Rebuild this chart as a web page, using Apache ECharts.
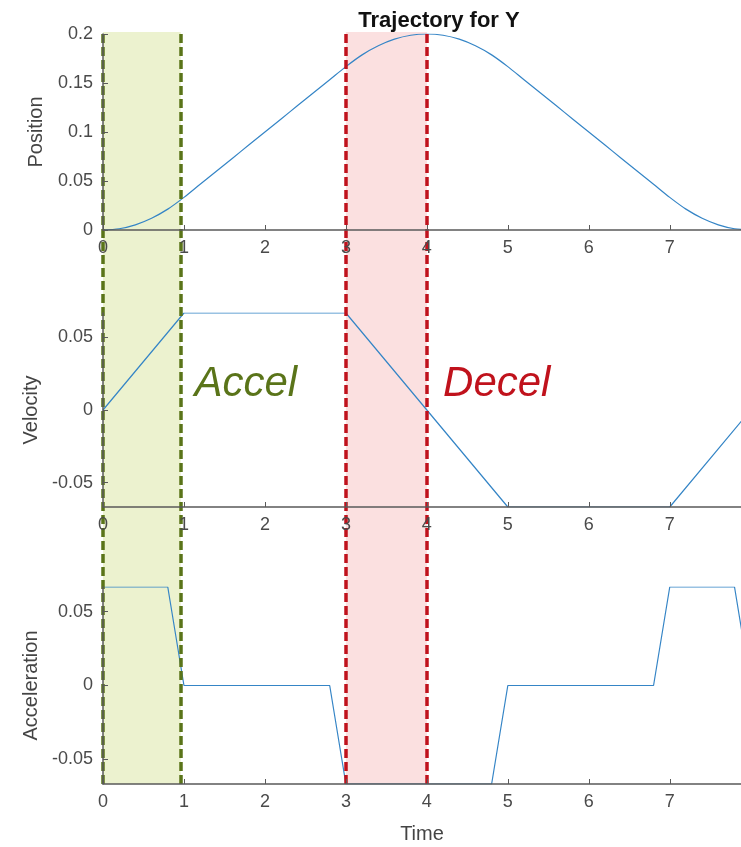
<!DOCTYPE html>
<html><head><meta charset="utf-8">
<script src="https://cdn.jsdelivr.net/npm/echarts@6/dist/echarts.min.js"></script>
<style>html,body{margin:0;padding:0;background:#fff}#c{width:741px;height:847px}</style>
</head><body><div id="c"></div>
<script>
// ---- data ----
const timeSamples = [0,0.2,0.4,0.6,0.8,1.0,1.2,1.4,1.6,1.8,2.0,2.2,2.4,2.6,2.8,3.0,3.2,3.4,3.6,3.8,4.0,4.2,4.4,4.6,4.8,5.0,5.2,5.4,5.6,5.8,6.0,6.2,6.4,6.6,6.8,7.0,7.2,7.4,7.6,7.8,8.0];
const positionValues = [0,0.0013,0.0053,0.012,0.0213,0.0333,0.0467,0.06,0.0733,0.0867,0.1,0.1133,0.1267,0.14,0.1533,0.1667,0.1787,0.188,0.1947,0.1987,0.2,0.1987,0.1947,0.188,0.1787,0.1667,0.1533,0.14,0.1267,0.1133,0.1,0.0867,0.0733,0.06,0.0467,0.0333,0.0213,0.012,0.0053,0.0013,0];
const velocityTimes = [0,1,3,5,7,8];
const velocityValues = [0,0.0667,0.0667,-0.0667,-0.0667,0];
const accelTimes = [0,0.8,1.0,2.8,3.0,4.8,5.0,6.8,7.0,7.8,8.0];
const accelValues = [0.0667,0.0667,0,0,-0.0667,-0.0667,0,0,0.0667,0.0667,0];
const xTickValues = [0,1,2,3,4,5,6,7];
const positionTickValues = [0,0.05,0.1,0.15,0.2];
const rateTickValues = [-0.05,0,0.05];
const accelRegion = [0,0.96];
const decelRegion = [3,4];
const accelLabel = {text:'Accel', t:1.13, v:0.018};
const decelLabel = {text:'Decel', t:4.2, v:0.018};
const xMin = 0, xMax = 7.88;
const rateLimit = 0.0667;

// ---- chart ----
const FONT = '"Liberation Sans", Arial, sans-serif';
const TICK = '#4a4a4a';
const AXIS = '#5a5a5a';
const CURVE = '#3585c6';
const GREEN = '#5a7419', GREEN_FILL = '#ecf2cf';
const RED = '#c0121c', RED_FILL = '#fbe0e0';

const zip = (a,b) => a.map((t,i)=>[t,b[i]]);
const grids = [
  {left:103, right:0, top:34, bottom:617},
  {left:103, right:0, top:313, bottom:340},
  {left:103, right:0, top:587, bottom:63},
  {left:103, right:0, top:32, bottom:63}
];
function xAx(i, extra){
  return Object.assign({
    type:'value', gridIndex:i, min:xMin, max:xMax, z:5,
    axisLine:{show:true, onZero:false, lineStyle:{color:AXIS, width:1.5}},
    axisTick:{show:true, inside:true, length:5, customValues:xTickValues, lineStyle:{color:AXIS}},
    axisLabel:{customValues:xTickValues, color:TICK, fontSize:18, fontFamily:FONT, margin:9},
    splitLine:{show:false}
  }, extra||{});
}
function yAx(i, min, max, ticks, name, gap){
  return {
    type:'value', gridIndex:i, min:min, max:max, z:5,
    name:name, nameLocation:'middle', nameGap:gap, nameRotate:90,
    nameTextStyle:{color:'#444', fontSize:20, fontFamily:FONT},
    axisLine:{show:true, onZero:false, lineStyle:{color:AXIS, width:1.5}},
    axisTick:{show:true, inside:true, length:5, customValues:ticks, lineStyle:{color:AXIS}},
    axisLabel:{customValues:ticks, color:TICK, fontSize:18, fontFamily:FONT, margin:10},
    splitLine:{show:false}
  };
}
const option = {
  animation:false,
  backgroundColor:'#fff',
  title:{text:'Trajectory for Y', left:434, top:5, textAlign:'center',
    textStyle:{fontSize:22, fontWeight:'bold', color:'#111', fontFamily:FONT}},
  grid:grids,
  xAxis:[
    xAx(0), xAx(1),
    xAx(2, {name:'Time', nameLocation:'middle', nameGap:40,
      nameTextStyle:{color:'#444', fontSize:20, fontFamily:FONT}}),
    {type:'value', gridIndex:3, min:xMin, max:xMax, show:false}
  ],
  yAxis:[
    yAx(0, 0, 0.2, positionTickValues, 'Position', 57),
    yAx(1, -rateLimit, rateLimit, rateTickValues, 'Velocity', 62),
    yAx(2, -rateLimit, rateLimit, rateTickValues, 'Acceleration', 62),
    {type:'value', gridIndex:3, min:0, max:1, show:false}
  ],
  series:[
    {type:'line', xAxisIndex:3, yAxisIndex:3, data:[], z:1, silent:true,
      markArea:{silent:true, data:[
        [{xAxis:accelRegion[0], itemStyle:{color:GREEN_FILL}}, {xAxis:accelRegion[1]}],
        [{xAxis:decelRegion[0], itemStyle:{color:RED_FILL}}, {xAxis:decelRegion[1]}]
      ]}},
    {type:'line', name:'Position', xAxisIndex:0, yAxisIndex:0, data:zip(timeSamples, positionValues),
      showSymbol:false, smooth:0.3, z:4, lineStyle:{color:CURVE, width:1.2}},
    {type:'line', name:'Velocity', xAxisIndex:1, yAxisIndex:1, data:zip(velocityTimes, velocityValues),
      showSymbol:false, z:4, lineStyle:{color:CURVE, width:1.2},
      markPoint:{silent:true, symbol:'circle', symbolSize:0, data:[
        {coord:[accelLabel.t, accelLabel.v], label:{show:true, formatter:accelLabel.text, position:'right', distance:0,
          color:GREEN, fontSize:42, fontStyle:'italic', fontFamily:FONT}},
        {coord:[decelLabel.t, decelLabel.v], label:{show:true, formatter:decelLabel.text, position:'right', distance:0,
          color:RED, fontSize:42, fontStyle:'italic', fontFamily:FONT}}
      ]}},
    {type:'line', name:'Acceleration', xAxisIndex:2, yAxisIndex:2, data:zip(accelTimes, accelValues),
      showSymbol:false, z:4, lineStyle:{color:CURVE, width:1.2}},
    {type:'line', xAxisIndex:3, yAxisIndex:3, data:[], z:8, silent:true,
      markLine:{silent:true, symbol:['none','none'], label:{show:false}, data:[
        {xAxis:accelRegion[0], lineStyle:{color:GREEN, width:3.5, type:[9,4]}},
        {xAxis:accelRegion[1], lineStyle:{color:GREEN, width:3.5, type:[9,4]}},
        {xAxis:decelRegion[0], lineStyle:{color:RED, width:3.5, type:[9,4]}},
        {xAxis:decelRegion[1], lineStyle:{color:RED, width:3.5, type:[9,4]}}
      ]}}
  ]
};
echarts.init(document.getElementById('c')).setOption(option);
</script></body></html>
